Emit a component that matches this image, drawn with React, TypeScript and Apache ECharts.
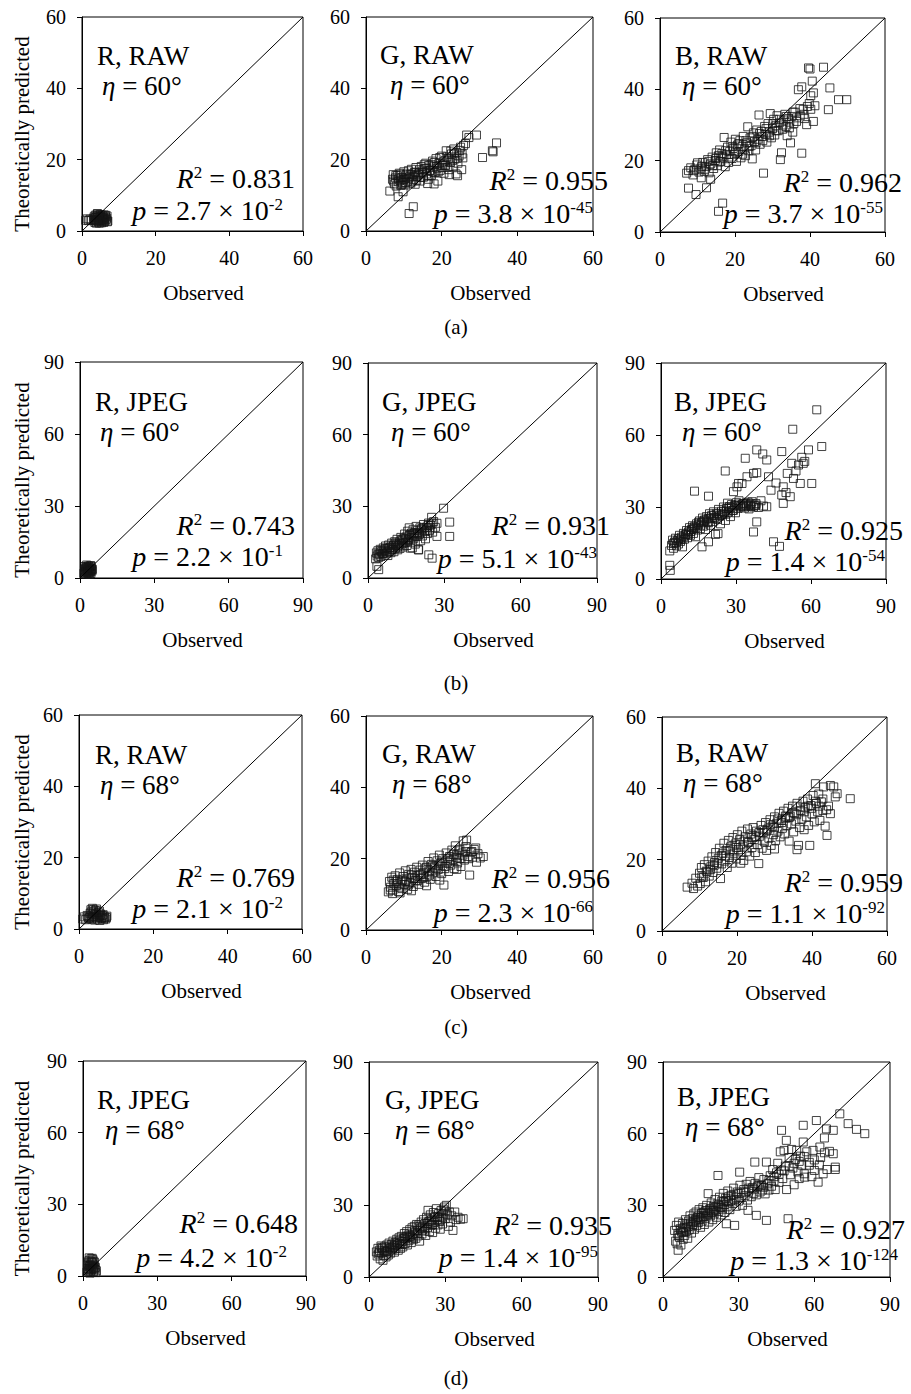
import React, { useEffect, useRef } from "react";
import * as echarts from "echarts";

const FONT = "'Liberation Serif', 'Times New Roman', serif";

// ---- labels / values ----
const CHANNELS = ["R, RAW", "G, RAW", "B, RAW", "R, JPEG", "G, JPEG", "B, JPEG", "R, RAW", "G, RAW", "B, RAW", "R, JPEG", "G, JPEG", "B, JPEG"];
const ETAS = ["60", "60", "60", "60", "60", "60", "68", "68", "68", "68", "68", "68"];
const R2 = ["0.831", "0.955", "0.962", "0.743", "0.931", "0.925", "0.769", "0.956", "0.959", "0.648", "0.935", "0.927"];
const P_MANT = ["2.7", "3.8", "3.7", "2.2", "5.1", "1.4", "2.1", "2.3", "1.1", "4.2", "1.4", "1.3"];
const P_EXP = ["-2", "-45", "-55", "-1", "-43", "-54", "-2", "-66", "-92", "-2", "-95", "-124"];
const AXIS_MAX = [60, 60, 60, 90, 90, 90, 60, 60, 60, 90, 90, 90];
const AXIS_STEP = [20, 20, 20, 30, 30, 30, 20, 20, 20, 30, 30, 30];
const SUB_LABELS = ["(a)", "(b)", "(c)", "(d)"];

// ---- data: [observed, predicted] ----
const A1 = [[1.0,3.0],[1.4,3.4],[1.8,2.9],[2.2,3.3],[2.6,3.0],[3.2,3.6],[3.5,2.4],[3.6,4.4],[3.8,3.0],[4.0,3.9],[4.1,4.7],[4.3,3.3],[4.5,2.6],[4.6,4.2],[4.8,3.6],[5.0,4.6],[5.1,3.0],[5.3,2.3],[5.5,4.4],[5.6,3.7],[5.8,3.2],[6.0,4.5],[6.2,2.7],[6.4,3.9],[4.2,4.9],[3.9,2.2],[5.2,4.0],[4.7,2.2],[6.1,3.5],[6.6,3.2],[6.8,4.2],[7.0,2.8],[5.9,2.4],[4.4,2.8]];
const A1_MORE = [[3.4,3.2],[3.7,3.8],[4.0,2.8],[4.3,4.4],[4.6,3.0],[4.9,4.0],[5.2,3.4],[5.5,2.8],[5.8,4.0],[6.1,3.0],[6.4,4.4],[6.7,3.6],[3.6,2.8],[5.0,3.2],[5.7,3.6],[4.4,3.8],[6.9,2.6],[3.3,4.0]];
const A2 = [[7.0,14.5],[7.2,15.8],[7.5,13.2],[7.8,14.9],[8.0,12.6],[8.3,15.5],[8.5,13.8],[8.8,16.2],[9.0,14.2],[9.2,12.8],[9.5,15.0],[9.7,13.5],[10.0,16.6],[10.2,14.6],[10.4,12.9],[10.6,15.7],[11.0,14.0],[11.2,16.9],[11.5,15.2],[11.8,13.4],[12.0,17.3],[12.2,15.9],[12.5,14.4],[12.8,16.5],[13.0,13.1],[13.2,17.8],[13.5,15.4],[14.0,16.2],[14.3,14.0],[14.6,18.1],[14.9,16.8],[15.2,15.1],[15.5,17.5],[15.8,19.0],[16.0,16.0],[16.3,13.3],[16.6,18.4],[17.0,17.0],[17.3,15.6],[17.6,19.6],[17.9,18.0],[18.2,16.4],[18.5,20.3],[18.8,17.6],[19.0,14.0],[19.3,19.0],[19.6,17.0],[20.0,21.0],[20.3,18.4],[20.6,16.2],[20.9,19.8],[21.2,22.5],[21.5,17.8],[21.8,20.4],[22.0,15.8],[22.3,19.2],[22.6,21.6],[23.0,18.0],[23.2,23.0],[23.5,20.2],[23.8,16.0],[24.0,22.0],[24.3,19.0],[24.6,21.0],[25.0,23.5],[25.3,17.2],[25.6,20.5],[26.3,24.5],[26.6,26.9],[27.2,26.2],[29.2,26.9],[30.8,20.6],[33.4,22.5],[33.6,22.2],[34.5,24.7],[12.5,6.8],[11.4,4.9],[8.5,9.6],[6.3,11.2],[9.8,11.0],[16.5,14.5],[18.0,13.2],[24.2,15.5]];
const A2_MORE = [[7.3,14.0],[7.9,15.6],[8.6,14.6],[9.1,15.9],[9.4,13.0],[9.9,14.4],[10.5,13.6],[10.8,16.0],[11.3,14.8],[11.7,15.9],[12.1,13.8],[12.6,15.2],[13.1,16.4],[13.4,14.2],[13.8,15.8],[14.2,17.2],[14.5,15.0],[15.0,16.4],[15.4,18.6],[15.9,17.6],[16.2,15.4],[16.8,17.0],[17.2,18.6],[17.7,16.6],[18.1,19.2],[18.6,18.2],[19.1,16.6],[19.5,20.6],[20.1,17.8],[20.5,19.4],[21.0,18.4],[21.4,20.8],[21.9,17.2],[22.4,22.4],[22.9,19.8],[23.4,21.8],[24.1,20.4],[24.8,22.6],[25.4,21.6],[25.8,24.0]];
const A3 = [[7.1,16.5],[7.6,17.2],[8.2,18.0],[8.8,16.0],[9.3,17.6],[9.8,18.8],[10.4,16.8],[10.9,17.9],[11.4,19.5],[11.8,17.0],[12.3,18.4],[12.7,20.3],[13.1,16.6],[13.5,19.1],[13.9,21.0],[14.3,17.8],[14.7,20.0],[15.0,22.2],[15.3,18.6],[15.6,21.4],[15.9,23.0],[16.2,19.8],[16.5,22.0],[16.8,20.8],[17.1,26.5],[17.4,18.3],[17.7,21.7],[18.0,23.8],[18.3,19.5],[18.6,22.6],[18.9,25.2],[19.2,20.6],[19.5,23.4],[19.8,21.8],[20.1,26.0],[20.4,19.8],[20.7,24.4],[21.0,22.5],[21.3,25.6],[21.6,20.8],[21.9,24.0],[22.2,26.8],[22.5,23.2],[22.8,21.4],[23.1,25.0],[23.4,29.5],[23.7,22.8],[24.0,26.4],[24.3,24.2],[24.6,20.5],[24.9,27.8],[25.2,25.4],[25.5,23.0],[25.8,28.6],[26.1,26.0],[26.4,32.8],[26.7,24.6],[27.0,28.2],[27.3,26.8],[27.6,16.5],[27.9,29.6],[28.2,27.4],[28.5,25.2],[28.8,30.4],[29.1,28.0],[29.4,33.2],[29.7,26.4],[30.0,29.0],[30.3,31.6],[30.6,27.2],[30.9,29.8],[31.2,32.6],[31.5,28.4],[31.8,30.6],[32.1,20.3],[32.4,22.2],[32.7,28.8],[33.0,31.4],[33.3,33.0],[33.6,29.6],[33.9,27.0],[34.2,31.8],[34.5,29.2],[34.8,25.0],[35.1,32.4],[35.4,28.0],[35.7,30.4],[36.0,33.6],[36.4,31.0],[36.9,39.9],[37.4,32.6],[37.8,40.7],[37.8,22.1],[38.2,34.4],[38.6,31.8],[39.1,30.1],[39.6,46.0],[39.8,36.0],[40.0,45.7],[40.2,34.4],[40.6,42.3],[40.9,31.0],[40.9,39.0],[41.3,35.4],[43.6,46.2],[44.9,34.3],[45.3,40.4],[47.6,37.1],[49.8,37.1],[7.6,12.3],[9.6,10.5],[12.4,12.4],[16.7,8.1],[15.6,5.8],[13.5,14.8],[11.0,15.2]];
const A3_MORE = [[9.0,17.2],[10.0,19.4],[11.1,18.4],[12.0,17.6],[13.0,19.8],[14.0,18.6],[14.9,20.6],[15.8,19.6],[16.6,21.2],[17.5,22.8],[18.4,21.0],[19.3,24.0],[20.2,22.4],[21.1,24.8],[22.0,21.8],[22.9,25.6],[23.8,24.0],[24.7,26.8],[25.6,25.0],[26.5,27.6],[27.4,25.6],[28.3,29.0],[29.2,27.0],[30.1,30.4],[31.0,28.4],[31.9,31.6],[32.8,30.0],[33.7,32.4],[34.6,30.8],[35.5,33.6],[36.4,32.0],[37.3,34.6],[38.4,33.0],[39.3,35.2],[40.2,38.2]];
const B1 = [[1.6,2.0],[1.8,3.5],[2.0,4.8],[2.2,2.6],[2.4,1.6],[2.5,3.9],[2.7,5.4],[2.9,2.2],[3.0,3.0],[3.1,4.4],[3.3,1.8],[3.4,5.0],[3.5,2.8],[3.7,3.7],[3.8,4.6],[4.0,2.4],[4.1,3.3],[4.3,5.2],[4.4,1.9],[4.6,4.0],[4.8,2.9],[5.0,3.6],[2.3,4.2],[3.9,1.5],[4.5,4.8],[1.9,2.8]];
const B1_MORE = [[2.1,3.2],[2.6,2.4],[3.2,3.6],[3.6,4.2],[4.2,2.8],[4.7,3.4],[2.8,4.6],[3.4,2.2]];
const B2 = [[3.0,8.0],[3.3,10.5],[3.6,9.2],[3.9,11.4],[4.2,8.6],[4.5,10.0],[4.8,12.0],[5.1,9.0],[5.4,11.0],[5.7,10.2],[6.0,12.6],[6.3,9.6],[6.6,11.6],[6.9,13.4],[7.2,10.4],[7.5,12.2],[7.8,9.4],[8.1,13.8],[8.4,11.2],[8.7,12.8],[9.0,10.6],[9.3,14.6],[9.6,12.0],[9.9,13.4],[10.2,11.0],[10.5,15.2],[10.8,12.6],[11.1,14.0],[11.4,16.2],[11.7,11.8],[12.0,13.6],[12.3,15.0],[12.6,12.4],[12.9,17.0],[13.2,14.2],[13.5,15.8],[13.8,13.0],[14.1,16.6],[14.4,18.4],[14.7,14.8],[15.0,17.2],[15.3,13.6],[15.6,19.6],[15.9,16.0],[16.2,21.0],[16.5,17.8],[16.8,15.0],[17.1,18.8],[17.4,12.6],[17.7,20.2],[18.0,16.6],[18.3,19.0],[18.6,14.2],[18.9,21.6],[19.2,17.4],[19.5,19.8],[19.8,11.8],[20.1,18.2],[20.4,21.0],[20.7,15.6],[21.0,20.4],[21.4,17.6],[21.8,22.4],[22.2,19.4],[22.6,16.4],[23.0,21.2],[23.4,18.6],[23.8,23.0],[24.2,20.0],[24.6,22.2],[25.0,25.4],[25.4,19.2],[25.8,23.6],[23.9,9.7],[25.2,8.3],[27.1,17.4],[27.1,22.9],[29.7,29.2],[32.1,23.4],[32.1,17.4],[4.2,3.5],[3.5,4.9],[16.6,12.5],[19.9,11.8],[26.5,21.2]];
const B2_MORE = [[4.0,10.0],[5.0,11.4],[6.0,10.4],[6.8,12.4],[7.6,11.0],[8.4,12.6],[9.2,11.8],[10.0,13.6],[10.8,14.6],[11.6,13.0],[12.4,14.4],[13.2,16.0],[14.0,14.6],[14.8,16.4],[15.6,15.4],[16.4,18.2],[17.2,17.0],[18.0,18.6],[18.8,17.6],[19.6,19.0],[20.4,18.6],[21.2,20.6],[22.0,21.2],[22.8,19.8],[23.6,22.0],[24.4,21.0],[25.2,23.0]];
const B3 = [[4.2,14.0],[4.6,16.2],[5.0,12.8],[5.4,15.4],[5.8,17.0],[6.2,13.8],[6.6,16.0],[7.0,14.6],[7.4,18.2],[7.8,15.6],[8.2,17.4],[8.6,13.4],[9.0,19.0],[9.4,16.6],[9.8,18.4],[10.2,20.2],[10.6,17.2],[11.0,19.6],[11.4,21.4],[11.8,18.2],[12.2,20.6],[12.6,22.2],[13.0,19.0],[13.4,21.8],[13.8,17.6],[14.2,23.0],[14.6,20.4],[15.0,22.6],[15.4,24.2],[15.8,21.0],[16.2,23.4],[16.6,25.4],[17.0,22.0],[17.4,24.6],[17.8,20.6],[18.2,26.0],[18.6,23.6],[19.0,25.2],[19.4,27.2],[19.8,22.4],[20.2,26.4],[20.6,24.0],[21.0,28.0],[21.4,25.6],[21.8,18.6],[22.2,27.2],[22.6,24.8],[23.0,29.0],[23.4,26.2],[23.8,23.0],[24.2,28.2],[24.6,26.8],[25.0,30.0],[25.4,27.4],[25.8,24.4],[26.2,29.4],[26.6,31.6],[27.0,27.8],[27.4,30.2],[27.8,26.0],[28.2,31.0],[28.6,28.6],[29.0,36.4],[29.4,30.6],[29.8,27.6],[30.2,31.8],[30.4,38.4],[30.8,29.4],[31.0,39.8],[31.2,32.6],[31.8,30.0],[32.4,39.8],[32.6,31.2],[33.0,31.5],[33.4,29.6],[33.7,50.3],[34.0,30.8],[34.4,42.6],[34.8,32.0],[35.2,29.2],[35.6,31.0],[36.0,30.2],[36.4,32.2],[37.0,44.0],[37.0,19.6],[37.4,30.6],[38.0,31.4],[38.3,53.8],[38.3,44.3],[38.3,23.8],[39.0,29.8],[40.0,32.6],[40.7,52.1],[41.0,30.4],[42.3,49.6],[42.3,30.1],[43.0,42.6],[44.0,37.0],[45.0,15.5],[47.4,13.6],[48.3,53.1],[48.3,35.0],[48.9,38.4],[48.9,31.5],[50.0,36.0],[51.7,34.3],[52.3,48.2],[52.7,62.4],[53.0,41.9],[54.0,45.0],[55.0,47.5],[55.7,39.8],[56.3,50.7],[56.9,48.2],[57.5,49.0],[59.0,53.8],[60.3,39.8],[62.3,70.5],[64.3,55.2],[25.7,45.0],[13.4,36.6],[19.0,34.5],[19.0,15.5],[16.4,13.4],[3.5,5.7],[3.7,3.6],[3.5,11.7],[22.8,18.9],[46.0,40.0],[50.5,44.0]];
const B3_MORE = [[5.0,14.8],[6.0,15.2],[7.0,16.8],[8.0,16.4],[9.0,17.6],[10.0,18.6],[11.0,18.4],[12.0,19.8],[13.0,21.0],[14.0,21.4],[15.0,23.6],[16.0,22.4],[17.0,24.0],[18.0,24.6],[19.0,23.4],[20.0,25.4],[21.0,26.6],[22.0,25.2],[23.0,27.4],[24.0,26.6],[25.0,28.2],[26.0,27.0],[27.0,29.4],[28.0,29.8],[29.0,28.6],[30.0,30.4],[31.0,31.2],[32.0,30.6],[33.0,30.2],[34.0,31.6],[35.0,30.6],[36.0,31.4],[37.0,30.0],[38.0,30.8]];
const C1 = [[1.0,2.8],[1.4,3.4],[1.8,2.6],[2.2,3.8],[2.6,3.0],[3.0,4.4],[3.2,5.4],[3.4,2.7],[3.6,5.8],[3.8,3.5],[4.0,4.8],[4.2,2.5],[4.4,5.2],[4.6,3.2],[4.8,4.0],[5.0,2.8],[5.2,4.6],[5.4,3.6],[5.6,2.4],[5.8,4.2],[6.0,3.0],[6.3,3.8],[6.6,2.6],[6.9,3.4],[7.2,2.8],[7.5,3.6],[2.8,3.2],[4.1,3.9],[5.5,5.0],[3.5,3.0]];
const C1_MORE = [[3.3,4.8],[3.9,5.4],[4.5,4.4],[5.1,3.4],[5.7,3.8],[6.2,3.2],[6.8,3.0],[7.4,3.2],[2.4,3.4],[4.7,5.6],[3.7,4.2],[6.5,4.0]];
const C2 = [[5.9,10.7],[6.2,13.6],[6.5,12.0],[6.8,14.8],[7.1,11.2],[7.4,13.0],[7.7,15.2],[8.0,12.4],[8.3,14.2],[8.6,10.8],[8.9,16.0],[9.2,13.4],[9.5,11.6],[9.8,15.0],[10.1,12.8],[10.4,16.6],[10.7,14.0],[11.0,11.4],[11.3,15.6],[11.6,13.2],[11.9,17.0],[12.2,14.6],[12.5,12.2],[12.8,16.2],[13.1,13.8],[13.4,17.6],[13.7,15.2],[14.0,12.8],[14.3,16.8],[14.6,14.4],[14.9,18.2],[15.2,16.0],[15.5,13.4],[15.8,17.4],[16.1,15.0],[16.4,19.2],[16.7,16.6],[17.0,14.2],[17.3,18.4],[17.6,16.0],[17.9,20.2],[18.2,17.6],[18.5,15.0],[18.8,19.4],[19.1,17.0],[19.4,21.0],[19.7,18.6],[20.0,15.8],[20.3,20.0],[20.6,12.6],[20.9,17.8],[21.2,21.6],[21.5,19.0],[21.8,16.4],[22.1,20.6],[22.4,18.2],[22.7,22.4],[23.0,19.8],[23.3,17.2],[23.6,23.6],[23.9,21.0],[24.2,18.8],[24.5,22.2],[24.8,20.0],[25.1,17.8],[25.4,21.6],[25.7,25.0],[26.0,19.6],[26.3,22.0],[26.6,25.2],[26.9,20.6],[27.4,15.4],[27.8,21.8],[28.2,20.4],[28.6,22.6],[29.2,19.0],[29.6,21.4],[30.2,20.2],[31.0,20.6],[29.0,23.0],[7.0,10.2],[9.0,10.4],[12.0,11.0],[16.0,12.4],[19.5,14.0],[24.0,17.0]];
const C2_MORE = [[6.4,11.2],[7.2,14.0],[8.0,13.6],[8.8,12.0],[9.6,14.0],[10.4,13.6],[11.2,12.6],[12.0,15.4],[12.8,14.4],[13.6,13.8],[14.4,15.6],[15.2,14.8],[16.0,17.6],[16.8,15.4],[17.6,18.0],[18.4,16.6],[19.2,18.2],[20.0,19.0],[20.8,17.2],[21.6,20.0],[22.4,19.4],[23.2,21.2],[24.0,20.4],[24.8,22.6],[25.6,21.0],[26.4,23.4],[27.2,20.0],[28.0,22.0]];
const C3 = [[6.7,12.3],[8.4,11.9],[8.0,13.4],[9.0,14.8],[9.5,12.6],[10.0,16.2],[10.2,13.3],[10.5,17.8],[11.0,15.0],[11.3,18.6],[11.6,13.8],[12.0,16.6],[12.3,19.6],[12.6,15.4],[13.0,18.0],[13.3,20.8],[13.6,16.4],[14.0,19.2],[14.3,22.0],[14.6,17.6],[15.0,20.4],[15.3,23.2],[15.6,14.7],[15.9,18.8],[16.2,21.8],[16.5,24.6],[16.8,19.6],[17.1,22.6],[17.4,17.8],[17.7,25.4],[18.0,20.6],[18.3,23.6],[18.6,19.0],[18.9,26.2],[19.2,21.8],[19.5,24.4],[19.8,20.2],[20.1,27.0],[20.4,22.8],[20.7,25.6],[21.0,21.2],[21.3,28.0],[21.6,23.8],[21.8,19.8],[22.2,26.4],[22.5,22.2],[22.8,28.6],[23.1,24.8],[23.4,21.0],[23.7,27.2],[24.0,23.4],[24.3,29.0],[24.6,25.6],[24.9,22.0],[25.2,28.0],[25.5,24.2],[25.8,18.9],[26.1,26.6],[26.4,29.6],[26.7,23.2],[27.0,27.6],[27.3,25.0],[27.6,30.4],[27.9,22.6],[28.2,28.6],[28.5,26.0],[28.8,31.2],[29.1,24.0],[29.4,29.4],[29.7,27.0],[30.0,32.0],[30.3,25.4],[30.6,30.2],[30.9,28.0],[31.2,33.0],[31.5,26.4],[31.8,31.0],[32.1,28.8],[32.4,33.6],[32.7,27.2],[33.0,31.6],[33.3,29.6],[33.6,34.4],[33.9,25.2],[34.2,32.2],[34.5,30.0],[34.8,35.0],[35.1,27.8],[35.4,33.0],[35.7,30.8],[36.0,35.8],[36.4,24.0],[36.7,29.0],[37.0,33.8],[37.3,31.4],[37.6,36.4],[37.9,28.4],[38.2,34.6],[38.5,32.0],[38.8,37.0],[39.1,29.6],[39.4,24.0],[39.7,35.2],[40.0,32.8],[40.3,38.0],[40.6,30.6],[40.9,41.3],[41.2,35.8],[41.5,33.4],[41.8,38.4],[42.1,31.0],[42.5,36.2],[42.9,33.8],[43.1,40.4],[43.5,29.4],[44.0,26.8],[44.4,35.0],[44.9,32.9],[44.9,40.8],[45.8,40.4],[46.2,37.6],[46.7,38.5],[50.2,37.1],[36.0,22.8],[30.0,23.0],[21.0,19.0]];
const C3_MORE = [[10.6,15.2],[11.8,16.8],[12.9,17.2],[13.9,18.4],[14.9,19.0],[15.9,21.2],[16.9,21.0],[17.9,22.4],[18.9,22.8],[19.9,23.4],[20.9,24.2],[21.9,25.2],[22.9,25.0],[23.9,26.2],[24.9,26.4],[25.9,27.6],[26.9,28.4],[27.9,28.0],[28.9,29.8],[29.9,29.0],[30.9,31.4],[31.9,30.4],[32.9,32.2],[33.9,31.8],[34.9,33.2],[35.9,32.6],[36.9,34.8],[37.9,33.4],[38.9,35.0],[39.9,34.4],[40.9,36.4],[41.9,35.0],[42.9,37.0],[43.9,34.0]];
const D1 = [[1.6,1.6],[1.8,3.2],[2.0,5.0],[2.2,2.2],[2.4,6.4],[2.6,3.8],[2.8,1.2],[3.0,4.6],[3.2,7.2],[3.4,2.6],[3.6,5.6],[3.8,3.4],[4.0,6.8],[4.2,1.8],[4.4,4.2],[4.6,5.8],[4.8,2.8],[5.0,3.6],[5.2,1.4],[5.4,2.2],[2.5,7.6],[3.7,7.4],[4.5,3.0],[1.9,4.2],[3.1,2.0]];
const D1_MORE = [[2.1,5.8],[2.7,4.4],[3.3,6.0],[3.9,5.0],[4.3,3.2],[2.9,3.0],[3.5,4.0],[4.1,6.2],[2.3,2.8]];
const D2 = [[2.9,10.5],[3.2,8.8],[3.5,12.0],[3.8,9.6],[4.1,11.2],[4.4,7.6],[4.7,13.0],[5.0,10.0],[5.3,11.8],[5.5,7.0],[5.8,9.0],[6.1,12.6],[6.4,10.6],[6.7,8.4],[7.0,13.4],[7.3,11.0],[7.6,9.2],[7.9,14.2],[8.2,12.0],[8.5,10.0],[8.8,13.6],[9.1,11.4],[9.4,15.0],[9.7,12.6],[10.0,10.4],[10.3,14.4],[10.6,12.0],[10.9,15.8],[11.2,13.4],[11.5,11.2],[11.8,16.4],[12.1,14.0],[12.4,12.0],[12.7,17.0],[13.0,14.8],[13.3,12.6],[13.6,16.2],[13.9,18.2],[14.2,14.0],[14.5,16.8],[14.8,19.0],[15.1,13.4],[15.4,17.6],[15.7,15.2],[16.0,19.8],[16.3,17.0],[16.6,14.4],[16.9,20.6],[17.2,18.0],[17.5,15.8],[17.8,21.2],[18.1,18.8],[18.4,16.2],[18.7,22.0],[19.0,19.4],[19.3,17.2],[19.6,21.8],[19.9,15.0],[20.2,20.2],[20.5,23.0],[20.8,18.0],[21.1,21.0],[21.4,24.0],[21.7,19.2],[22.0,22.4],[22.3,17.4],[22.6,25.0],[22.9,20.6],[23.2,27.9],[23.5,23.2],[23.8,19.0],[24.1,26.0],[24.4,21.6],[24.7,24.0],[25.0,18.6],[25.3,27.0],[25.6,22.8],[25.9,25.2],[26.2,20.4],[26.5,28.6],[26.8,24.2],[27.1,21.8],[27.4,26.6],[27.7,23.4],[28.0,20.0],[28.3,27.8],[28.6,25.0],[28.9,22.2],[29.2,28.4],[29.7,29.3],[30.0,24.4],[30.4,30.0],[30.8,26.0],[31.2,21.2],[31.6,27.2],[32.0,23.0],[32.5,25.6],[33.0,19.5],[33.7,27.2],[34.2,24.0],[35.0,25.0],[36.0,24.2],[37.0,24.4]];
const D2_MORE = [[4.0,10.2],[5.0,12.4],[6.0,11.0],[7.0,10.6],[8.0,12.6],[9.0,12.4],[10.0,13.2],[11.0,14.2],[12.0,15.2],[13.0,13.6],[14.0,16.0],[15.0,16.6],[16.0,17.2],[17.0,16.4],[18.0,19.4],[19.0,18.2],[20.0,21.0],[21.0,19.6],[22.0,20.2],[23.0,22.4],[24.0,23.4],[25.0,22.0],[26.0,24.8],[27.0,25.0],[28.0,24.0],[29.0,26.4],[30.0,27.6]];
const D3 = [[4.6,19.5],[5.0,15.0],[5.3,21.6],[5.6,13.9],[5.9,18.0],[6.0,11.2],[6.2,23.0],[6.5,16.6],[6.8,20.2],[7.1,13.4],[7.4,18.8],[7.7,22.4],[8.0,15.8],[8.3,20.6],[8.6,17.4],[8.9,24.0],[9.2,19.0],[9.5,21.8],[9.8,16.2],[10.1,23.4],[10.4,19.8],[10.7,25.6],[11.0,21.0],[11.3,18.4],[11.6,24.4],[11.9,22.0],[12.2,26.4],[12.5,20.0],[12.8,23.6],[13.1,27.2],[13.4,21.6],[13.7,25.0],[14.0,22.8],[14.3,28.2],[14.6,24.2],[14.9,20.8],[15.2,26.6],[15.5,23.4],[15.8,29.0],[16.1,25.4],[16.4,22.0],[16.7,27.6],[17.0,24.6],[17.3,30.0],[17.6,26.0],[17.9,34.9],[18.2,23.0],[18.5,28.4],[18.8,25.6],[19.1,31.0],[19.4,27.0],[19.7,24.0],[20.0,29.6],[20.3,26.4],[20.6,32.4],[20.9,28.0],[21.2,25.0],[21.5,30.6],[21.8,42.5],[22.1,27.4],[22.4,33.4],[22.7,29.2],[23.0,26.0],[23.3,31.8],[23.6,28.4],[23.9,35.0],[24.2,30.2],[24.5,27.0],[24.8,33.0],[25.1,22.3],[25.4,29.4],[25.7,36.0],[26.0,31.4],[26.5,28.2],[27.0,34.2],[27.5,30.8],[28.0,37.2],[28.4,21.6],[28.5,32.4],[29.0,29.6],[29.5,35.6],[30.0,31.8],[30.4,43.9],[30.5,38.4],[31.0,33.2],[31.5,30.0],[32.0,36.6],[32.5,34.0],[33.0,38.8],[33.5,32.2],[33.7,27.9],[34.0,36.0],[34.5,40.0],[35.0,33.6],[35.5,37.4],[36.0,35.0],[36.4,48.1],[36.5,39.2],[37.0,25.8],[37.0,34.4],[37.5,37.8],[38.0,41.6],[38.5,35.6],[39.0,38.4],[39.5,36.4],[40.0,40.8],[40.5,34.8],[41.0,48.1],[41.0,23.7],[41.5,39.0],[42.0,36.4],[42.5,42.4],[43.0,38.0],[43.5,45.0],[44.0,40.2],[44.5,36.6],[45.0,43.6],[45.5,47.6],[46.0,39.6],[46.5,52.4],[47.0,61.4],[47.0,44.8],[47.5,41.2],[48.0,53.0],[48.5,46.4],[48.9,57.2],[49.0,36.6],[49.6,24.4],[50.0,50.0],[50.5,42.8],[51.0,53.4],[51.5,45.6],[52.0,38.6],[52.5,49.2],[53.0,53.0],[53.5,44.0],[54.0,41.2],[54.5,50.6],[55.0,46.8],[55.6,63.5],[55.6,56.5],[56.0,43.2],[56.2,41.8],[57.0,52.4],[58.0,48.0],[59.0,42.0],[59.5,53.0],[60.0,44.6],[60.8,65.5],[61.5,39.7],[62.2,54.4],[62.5,50.0],[63.5,43.2],[64.0,58.2],[64.8,62.0],[65.0,45.0],[66.0,52.6],[67.5,61.4],[67.5,51.6],[68.3,46.0],[68.3,45.0],[70.1,68.3],[73.4,64.2],[76.7,61.8],[80.0,60.0]];
const D3_MORE = [[6.0,17.4],[7.0,19.6],[8.0,18.6],[9.0,20.4],[10.0,21.2],[11.0,22.6],[12.0,23.0],[13.0,24.2],[14.0,25.6],[15.0,24.8],[16.0,27.0],[17.0,27.8],[18.0,26.8],[19.0,28.6],[20.0,27.8],[21.0,29.4],[22.0,30.2],[23.0,29.0],[24.0,31.4],[25.0,32.0],[26.0,33.6],[27.0,32.0],[28.0,34.6],[29.0,33.4],[30.0,35.0],[32.0,35.6],[34.0,37.2],[36.0,36.8],[38.0,38.6],[40.0,37.6],[42.0,40.4],[44.0,42.0],[46.0,43.0],[48.0,44.4],[50.0,46.4],[52.0,47.6],[54.0,48.4],[56.0,50.4],[58.0,46.8],[60.0,49.0],[62.0,47.0],[64.0,52.0]];
const PANEL_DATA = [
  [...A1, ...A1_MORE], [...A2, ...A2_MORE], [...A3, ...A3_MORE],
  [...B1, ...B1_MORE], [...B2, ...B2_MORE], [...B3, ...B3_MORE],
  [...C1, ...C1_MORE], [...C2, ...C2_MORE], [...C3, ...C3_MORE],
  [...D1, ...D1_MORE], [...D2, ...D2_MORE], [...D3, ...D3_MORE],
];

// ---- layout (pixels) ----
const W = 911;
const H = 1394;
// plot boxes: [left, top, right, bottom]
const BOXES = [
  [82, 17, 303, 231], [366, 17, 593, 231], [660, 18, 885, 232],
  [80, 362, 303, 578], [368, 363, 597, 578], [661, 363, 886, 579],
  [79, 715, 302, 929], [366, 716, 593, 930], [662, 717, 887, 931],
  [83, 1061, 306, 1276], [369, 1062, 598, 1277], [663, 1062, 890, 1277],
];
// annotation offsets: title(dx,dy from left/top), eta(dx,dy), r2(dx from right, dy from bottom), p(dx,dy)
const ANN = [
  [15, 39, 20, 69, -8, -53, -20, -21],
  [14, 38, 24, 68, 15, -51, 0, -18],
  [15, 38, 22, 68, 17, -50, -2, -19],
  [15, 40, 20, 70, -8, -53, -20, -22],
  [14, 39, 23, 69, 13, -53, 0, -20],
  [13, 39, 21, 69, 17, -49, -1, -18],
  [16, 40, 21, 70, -7, -52, -19, -21],
  [16, 38, 26, 68, 17, -52, 0, -18],
  [14, 36, 21, 66, 16, -49, -2, -18],
  [14, 39, 22, 69, -8, -53, -19, -19],
  [16, 38, 26, 68, 14, -52, 0, -20],
  [14, 35, 22, 65, 15, -48, 8, -17],
];
const SUB_Y = [327, 683, 1027, 1378];

function buildOption() {
  const grid: any[] = [];
  const xAxis: any[] = [];
  const yAxis: any[] = [];
  const series: any[] = [];
  const graphic: any[] = [];
  const rich = {
    i: { fontStyle: "italic", fontSize: 28, fontFamily: FONT, fill: "#000" },
    s: { fontSize: 17, fontFamily: FONT, verticalAlign: "top", fill: "#000" },
  };
  const richEta = {
    i: { fontStyle: "italic", fontSize: 27, fontFamily: FONT, fill: "#000" },
  };

  BOXES.forEach((b, i) => {
    const [l, t, r, btm] = b;
    grid.push({ left: l, top: t, width: r - l, height: btm - t, show: true, borderColor: "#000", borderWidth: 1, backgroundColor: "transparent" });
    xAxis.push({
      gridIndex: i, type: "value", min: 0, max: AXIS_MAX[i], interval: AXIS_STEP[i],
      axisLine: { show: true, onZero: false, lineStyle: { color: "#000", width: 1 } },
      axisTick: { show: true, length: 5, lineStyle: { color: "#000", width: 1 } },
      axisLabel: { fontFamily: FONT, fontSize: 20, color: "#000", margin: 17 },
      splitLine: { show: false },
    });
    yAxis.push({
      gridIndex: i, type: "value", min: 0, max: AXIS_MAX[i], interval: AXIS_STEP[i],
      axisLine: { show: true, onZero: false, lineStyle: { color: "#000", width: 1 } },
      axisTick: { show: true, length: 5, lineStyle: { color: "#000", width: 1 } },
      axisLabel: { fontFamily: FONT, fontSize: 20, color: "#000", margin: 16 },
      splitLine: { show: false },
    });
    series.push({
      type: "scatter", xAxisIndex: i, yAxisIndex: i, data: PANEL_DATA[i],
      symbol: "rect", symbolSize: 8,
      itemStyle: { color: "rgba(255,255,255,0)", borderColor: "#151515", borderWidth: 1 },
      silent: true, z: 2,
    });
    series.push({
      type: "line", xAxisIndex: i, yAxisIndex: i,
      data: [[0, 0], [AXIS_MAX[i], AXIS_MAX[i]]],
      symbol: "none", lineStyle: { color: "#000", width: 1 }, silent: true, z: 3,
    });

    const a = ANN[i];
    graphic.push({
      type: "text", x: l + a[0], y: t + a[1],
      style: { text: CHANNELS[i], fontFamily: FONT, fontSize: 27, fill: "#000", align: "left", verticalAlign: "middle" },
    });
    graphic.push({
      type: "text", x: l + a[2], y: t + a[3],
      style: { text: "{i|η} = " + ETAS[i] + "°", fontFamily: FONT, fontSize: 27, fill: "#000", align: "left", verticalAlign: "middle", rich: richEta },
    });
    graphic.push({
      type: "text", x: r + a[4], y: btm + a[5],
      style: { text: "{i|R}{s|2} = " + R2[i], fontFamily: FONT, fontSize: 28, fill: "#000", align: "right", verticalAlign: "middle", rich },
    });
    graphic.push({
      type: "text", x: r + a[6], y: btm + a[7],
      style: { text: "{i|p} = " + P_MANT[i] + " × 10{s|" + P_EXP[i] + "}", fontFamily: FONT, fontSize: 28, fill: "#000", align: "right", verticalAlign: "middle", rich },
    });
    graphic.push({
      type: "text", x: (l + r) / 2 + 11, y: btm + 62,
      style: { text: "Observed", fontFamily: FONT, fontSize: 21, fill: "#000", align: "center", verticalAlign: "middle" },
    });
    if (i % 3 === 0) {
      graphic.push({
        type: "text", x: 22, y: (t + btm) / 2 + 10, rotation: Math.PI / 2,
        style: { text: "Theoretically predicted", fontFamily: FONT, fontSize: 21, fill: "#000", align: "center", verticalAlign: "middle" },
      });
    }
  });

  SUB_LABELS.forEach((s, k) => {
    graphic.push({
      type: "text", x: 456, y: SUB_Y[k],
      style: { text: s, fontFamily: FONT, fontSize: 21, fill: "#000", align: "center", verticalAlign: "middle" },
    });
  });

  return {
    animation: false,
    backgroundColor: "#fff",
    grid, xAxis, yAxis, series, graphic,
  };
}

export default function App() {
  const ref = useRef<HTMLDivElement>(null);
  useEffect(() => {
    const chart = echarts.init(ref.current as HTMLDivElement, null, { renderer: "svg", width: W, height: H });
    chart.setOption(buildOption() as any);
    return () => chart.dispose();
  }, []);
  return (
    <div
      ref={ref}
      style={{ position: "absolute", left: 0, top: 0, width: W, height: H, background: "#fff" }}
    />
  );
}
